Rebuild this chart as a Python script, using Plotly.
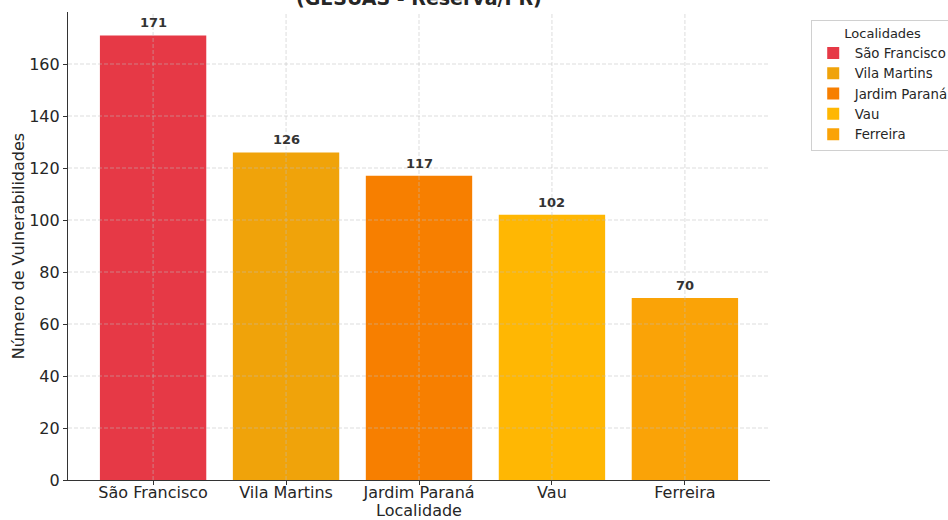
import plotly.graph_objects as go

categories = ["São Francisco", "Vila Martins", "Jardim Paraná", "Vau", "Ferreira"]
values = [171, 126, 117, 102, 70]
colors = ["#E63946", "#F0A30A", "#F77F00", "#FFB703", "#FAA307"]
y_ticks = [0, 20, 40, 60, 80, 100, 120, 140, 160]
title_text = "(GESUAS - Reserva/PR)"
x_title = "Localidade"
y_title = "Número de Vulnerabilidades"
legend_title = "Localidades"

FONT = "DejaVu Sans"
TXT = "#262626"

fig = go.Figure()
for cat, val, col in zip(categories, values, colors):
    fig.add_trace(go.Bar(
        x=[cat], y=[val], name=cat, marker=dict(color=col, line=dict(width=0)),
        width=0.8, showlegend=True,
    ))

# grid lines drawn above bars (dashed), like the reference
GRID = dict(color="rgba(190,190,190,0.65)", width=0.8, dash="4px,2px")
shapes = []
for t in y_ticks[1:]:
    shapes.append(dict(type="line", xref="paper", yref="y", x0=0, x1=1, y0=t, y1=t,
                       line=GRID, layer="above"))
for cat in categories:
    shapes.append(dict(type="line", xref="x", yref="paper", x0=cat, x1=cat, y0=0, y1=1,
                       line=GRID, layer="above"))

annotations = []
for cat, val in zip(categories, values):
    annotations.append(dict(x=cat, y=val, xref="x", yref="y", text=f"<b>{val}</b>",
                            showarrow=False, yanchor="bottom", yshift=3,
                            font=dict(family=FONT, size=13, color="#333333")))
annotations.append(dict(x=0.5, y=1.03, xref="paper", yref="paper", text=f"<b>{title_text}</b>",
                        showarrow=False, yanchor="middle", xanchor="center",
                        font=dict(family=FONT, size=19, color=TXT)))

fig.update_layout(
    width=948, height=520,
    margin=dict(l=68, r=178, t=12, b=40, autoexpand=False),
    paper_bgcolor="white", plot_bgcolor="white",
    barmode="overlay",
    font=dict(family=FONT, size=15, color=TXT),
    shapes=shapes, annotations=annotations,
    legend=dict(
        x=1.058, y=0.983, xanchor="left", yanchor="top",
        title=dict(text=legend_title, side="top center", font=dict(family=FONT, size=13, color=TXT)),
        font=dict(family=FONT, size=13.3, color=TXT),
        bordercolor="#d0d0d0", borderwidth=1, bgcolor="white",
        tracegroupgap=0, itemsizing="constant", itemwidth=33,
    ),
    xaxis=dict(
        type="category", categoryorder="array", categoryarray=categories,
        range=[-0.64, 4.64], showgrid=False, zeroline=False,
        showline=True, linecolor="#333333", linewidth=1.2,
        ticks="outside", ticklen=4, tickwidth=1, tickcolor="#333333",
        tickfont=dict(family=FONT, size=16, color=TXT),
        ticklabelstandoff=-6,
        title=dict(text=x_title, font=dict(family=FONT, size=16, color=TXT), standoff=13),
        automargin=False,
    ),
    yaxis=dict(
        range=[0, 180], tickvals=y_ticks, showgrid=False, zeroline=False,
        showline=True, linecolor="#333333", linewidth=1.2,
        ticks="outside", ticklen=4, tickwidth=1, tickcolor="#333333",
        tickfont=dict(family=FONT, size=16, color=TXT),
        title=dict(text=y_title, font=dict(family=FONT, size=16, color=TXT), standoff=0),
        automargin=False,
    ),
)

fig.write_html("out.html", config={"displayModeBar": False},
               post_script="document.body.style.margin='0';document.body.style.overflow='hidden';")
